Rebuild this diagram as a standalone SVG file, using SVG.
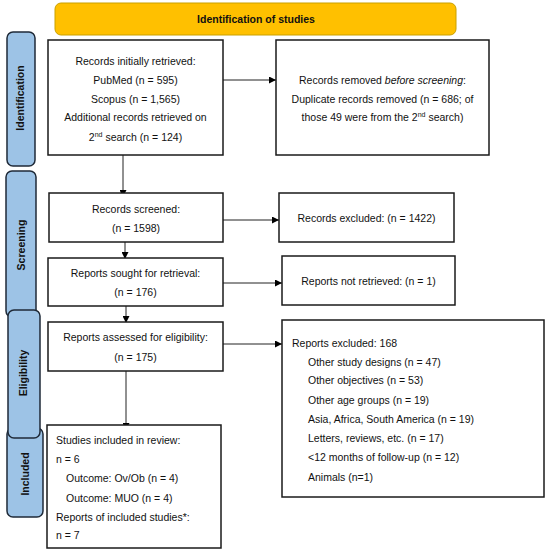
<svg xmlns="http://www.w3.org/2000/svg" width="550" height="553" viewBox="0 0 550 553">
<defs>
<marker id="ah" viewBox="0 0 10 10" refX="10" refY="5" markerWidth="7" markerHeight="7" markerUnits="userSpaceOnUse" orient="auto"><path d="M0,0 L10,5 L0,10 z" fill="#000"/></marker>
<style>
.box{fill:#fff;stroke:#1a1a1a;stroke-width:1.5}
.tab{fill:#9DC3E6;stroke:#1f2a38;stroke-width:1.5}
.ban{fill:#FFC000;stroke:#C9A000;stroke-width:1}
text{font-family:"Liberation Sans",Arial,sans-serif;font-size:10.5px;fill:#111}
.c{text-anchor:middle}
.b{font-weight:bold}
.con{stroke:#222;stroke-width:1;fill:none;marker-end:url(#ah)}
</style>
</defs>
<rect width="550" height="553" fill="#fff"/>
<g id="banner"><rect class="ban" x="55" y="3" width="401" height="32" rx="6"/><text class="c b" x="256" y="23">Identification of studies</text></g>
<g id="tab-identification"><rect class="tab" x="7" y="32" width="28" height="134" rx="6"/><text class="c b" transform="translate(24,98) rotate(-90)">Identification</text></g>
<g id="tab-screening"><rect class="tab" x="6" y="171" width="30" height="146" rx="6"/><text class="c b" transform="translate(25,245) rotate(-90)">Screening</text></g>
<g id="tab-included"><rect class="tab" x="7" y="428" width="36" height="89" rx="6"/><text class="c b" transform="translate(29,474) rotate(-90)">Included</text></g>
<g id="tab-eligibility"><rect class="tab" x="8" y="310" width="32" height="128" rx="6"/><text class="c b" transform="translate(27,373) rotate(-90)">Eligibility</text></g>
<g id="connectors">
<line class="con" x1="223" y1="80" x2="276" y2="80"/>
<line class="con" x1="123" y1="131" x2="123" y2="197"/>
<line class="con" x1="223" y1="220" x2="279" y2="220"/>
<line class="con" x1="125" y1="242" x2="125" y2="259"/>
<line class="con" x1="223" y1="283" x2="282" y2="283"/>
<line class="con" x1="126" y1="306" x2="126" y2="323"/>
<line class="con" x1="223" y1="344" x2="282" y2="344"/>
<line class="con" x1="126" y1="371" x2="126" y2="430"/>
</g>
<g id="records-retrieved"><rect class="box" x="48" y="40" width="175" height="115"/>
<text class="c" x="135.5" y="65">Records initially retrieved:</text>
<text class="c" x="135.5" y="84">PubMed (n = 595)</text>
<text class="c" x="135.5" y="103">Scopus (n = 1,565)</text>
<text class="c" x="135.5" y="121">Additional records retrieved on</text>
<text class="c" x="135.5" y="141">2<tspan font-size="7" dy="-4">nd</tspan><tspan dy="4"> search (n = 124)</tspan></text></g>
<g id="records-removed"><rect class="box" x="276" y="40" width="213" height="115"/>
<text class="c" x="382.5" y="84">Records removed <tspan font-style="italic">before screening</tspan>:</text>
<text class="c" x="382.5" y="103">Duplicate records removed (n = 686; of</text>
<text class="c" x="382.5" y="121">those 49 were from the 2<tspan font-size="7" dy="-4">nd</tspan><tspan dy="4"> search)</tspan></text></g>
<g id="records-screened"><rect class="box" x="49" y="193" width="174" height="49"/>
<text class="c" x="136" y="213">Records screened:</text>
<text class="c" x="136" y="232">(n = 1598)</text></g>
<g id="records-excluded"><rect class="box" x="279" y="193" width="175" height="49"/>
<text class="c" x="366.5" y="222">Records excluded: (n = 1422)</text></g>
<g id="reports-sought"><rect class="box" x="48" y="258" width="175" height="48"/>
<text class="c" x="135.5" y="277">Reports sought for retrieval:</text>
<text class="c" x="135.5" y="296">(n = 176)</text></g>
<g id="reports-not-retrieved"><rect class="box" x="282" y="256" width="173" height="49"/>
<text class="c" x="368.5" y="285">Reports not retrieved: (n = 1)</text></g>
<g id="reports-assessed"><rect class="box" x="48" y="322" width="175" height="49"/>
<text class="c" x="135.5" y="341">Reports assessed for eligibility:</text>
<text class="c" x="135.5" y="361">(n = 175)</text></g>
<g id="reports-excluded"><rect class="box" x="282" y="320" width="262" height="177"/>
<text x="292" y="347">Reports excluded: 168</text>
<text x="308" y="366">Other study designs (n = 47)</text>
<text x="308" y="384">Other objectives (n = 53)</text>
<text x="308" y="404">Other age groups (n = 19)</text>
<text x="308" y="423">Asia, Africa, South America (n = 19)</text>
<text x="308" y="442">Letters, reviews, etc. (n = 17)</text>
<text x="308" y="461">&lt;12 months of follow-up (n = 12)</text>
<text x="308" y="481">Animals (n=1)</text></g>
<g id="studies-included"><rect class="box" x="47" y="425" width="174" height="123"/>
<text x="56" y="444">Studies included in review:</text>
<text x="56" y="463">n = 6</text>
<text x="66" y="482">Outcome: Ov/Ob (n = 4)</text>
<text x="66" y="502">Outcome: MUO (n = 4)</text>
<text x="56" y="521">Reports of included studies*:</text>
<text x="56" y="539">n = 7</text></g>
</svg>
